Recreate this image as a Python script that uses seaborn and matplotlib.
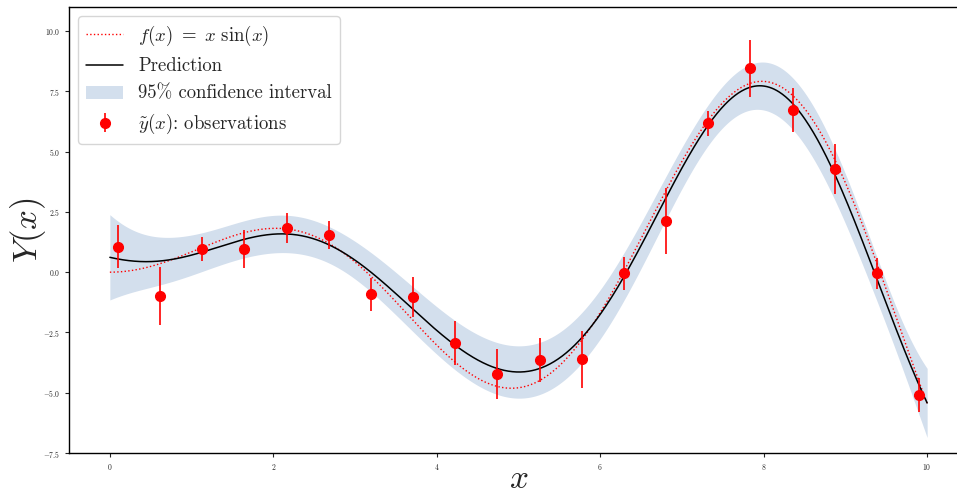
import numpy as np
import pandas as pd
import seaborn as sns
import matplotlib.pyplot as plt

# observations
obs_x = np.linspace(0.1, 9.9, 20)
obs_y = [1.06, -0.98, 0.95, 0.95, 1.84, 1.55, -0.91, -1.02, -2.92, -4.21,
         -3.66, -3.61, -0.04, 2.11, 6.17, 8.45, 6.73, 4.27, -0.04, -5.11]
obs_dy = [0.90, 1.21, 0.50, 0.79, 0.63, 0.59, 0.68, 0.84, 0.91, 1.04,
          0.91, 1.19, 0.69, 1.37, 0.52, 1.17, 0.92, 1.04, 0.64, 0.71]

x_grid = np.linspace(0, 10, 1000)

y_obs = np.array(obs_y)
noise = np.array(obs_dy) ** 2


def rbf(a, b, ls):
    return np.exp(-0.5 * (a[:, None] - b[None, :]) ** 2 / ls ** 2)


# GP fit: pick amplitude / length scale by log marginal likelihood
best = None
for c in np.logspace(-1, 3, 120):
    for ls in np.logspace(-1, 1.5, 120):
        K = c * rbf(obs_x, obs_x, ls) + np.diag(noise)
        L = np.linalg.cholesky(K)
        alpha = np.linalg.solve(L.T, np.linalg.solve(L, y_obs))
        lml = -0.5 * y_obs @ alpha - np.log(np.diag(L)).sum()
        if best is None or lml > best[0]:
            best = (lml, c, ls)
_, c, ls = best
K = c * rbf(obs_x, obs_x, ls) + np.diag(noise)
Ks = c * rbf(x_grid, obs_x, ls)
Kinv = np.linalg.inv(K)
y_pred = Ks @ Kinv @ y_obs
sigma = np.sqrt(np.clip(c - np.einsum('ij,jk,ik->i', Ks, Kinv, Ks), 0, None))

df = pd.DataFrame({'x': x_grid, 'f': x_grid * np.sin(x_grid), 'pred': y_pred})

sns.set_style('white')
plt.rcParams['font.family'] = 'serif'
plt.rcParams['font.serif'] = ['cmr10']
plt.rcParams['mathtext.fontset'] = 'cm'
plt.rcParams['axes.formatter.use_mathtext'] = True
plt.rcParams['axes.unicode_minus'] = True

fig = plt.figure(figsize=(9.57, 4.94), dpi=100)
ax = fig.add_axes([69 / 957, 41 / 494, 899 / 957, 446 / 494])

lab_f = r'$f(x)\ =\ x\ \sin(x)$'
lab_ci = '95% confidence interval'
lab_obs = r'$\tilde{y}(x)$: observations'

sns.lineplot(data=df, x='x', y='f', ax=ax, color='red', linestyle=':', lw=1,
             label=lab_f)
sns.lineplot(data=df, x='x', y='pred', ax=ax, color='black', lw=1.1,
             label='Prediction')
ax.fill_between(x_grid, y_pred - 1.96 * sigma, y_pred + 1.96 * sigma,
                color='#d3dfed', lw=0, label=lab_ci)
ax.errorbar(obs_x, obs_y, yerr=obs_dy, fmt='o', color='red', markersize=7,
            elinewidth=1.2, label=lab_obs)

h, l = ax.get_legend_handles_labels()
order = [l.index(k) for k in [lab_f, 'Prediction', lab_ci, lab_obs]]
ax.legend([h[i] for i in order], [l[i] for i in order], loc='upper left',
          fontsize=13.5, framealpha=0.8)

ax.set_xlim(-0.5, 10.5)
ax.set_ylim(-7.5, 11)
ax.set_xticks([0, 2, 4, 6, 8, 10])
ax.set_yticks([-7.5, -5.0, -2.5, 0.0, 2.5, 5.0, 7.5, 10.0])
ax.tick_params(labelsize=5.5, length=3, width=0.8, bottom=True, left=True)
for s in ax.spines.values():
    s.set_color('black')
    s.set_linewidth(1)
ax.set_xlabel('$x$', fontsize=24, labelpad=-5)
ax.set_ylabel('$Y(x)$', fontsize=25, labelpad=-4)

fig.savefig('out.png', dpi=100)
